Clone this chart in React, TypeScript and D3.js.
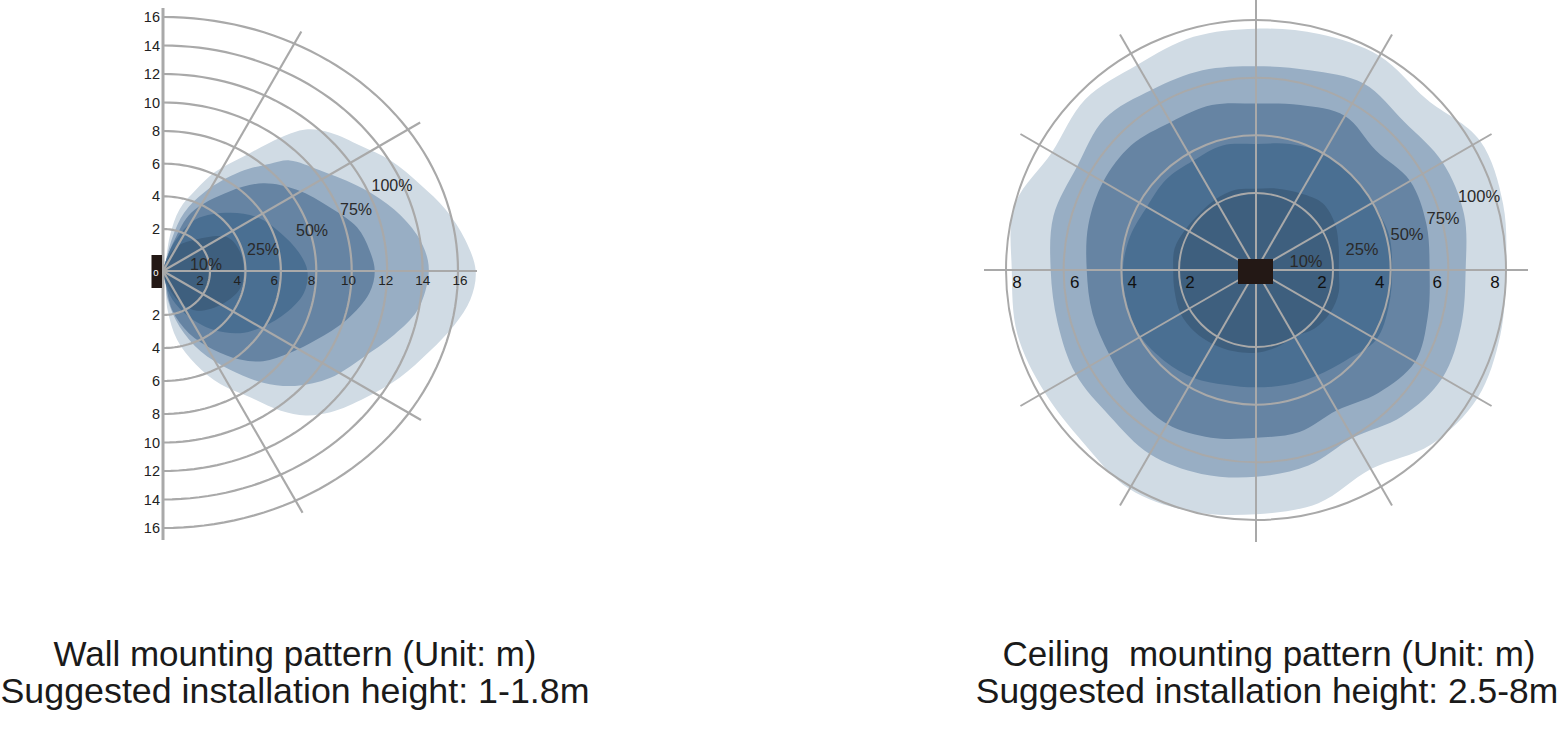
import React from 'react';
import * as d3 from 'd3';

const W = 1563, H = 745;

// ---------------- DATA ----------------
// Wall mounting pattern: grid rings (m) and contour outlines [forward m, lateral m (up +)]
const wallRings = [2, 4, 6, 8, 10, 12, 14, 16];
const wallSpokeAngles = [60, 30, -30, -60];
const levelLabels = ['100%', '75%', '50%', '25%', '10%'];

const wall100: [number, number][] = [
  [0, 0], [0.1, 0.4], [0.3, 1.7], [0.7, 3.2], [1.4, 4.4], [2.3, 5.5], [4.0, 6.5], [6.0, 7.6], [7.4, 8.1],
  [8.8, 7.9], [10.5, 7.1], [12.2, 6.2], [13.9, 4.7], [15.3, 3.2], [16.4, 1.5], [17.0, 0], [16.7, -1.3],
  [15.8, -2.6], [14.4, -4.2], [12.7, -5.8], [10.8, -7.0], [8.8, -7.9], [7.4, -8.1], [6.0, -7.8], [4.3, -7.0],
  [2.6, -6.2], [1.4, -5.0], [0.6, -3.5], [0.2, -1.8], [0.1, -0.6],
];
const wall75: [number, number][] = [
  [0, 0], [0.1, 0.4], [0.4, 1.6], [0.9, 3.0], [1.8, 4.3], [3.7, 5.5], [5.4, 6.0], [6.5, 6.2], [8.2, 5.6],
  [10.6, 4.5], [12.4, 3.2], [13.7, 1.7], [14.3, 0.5], [14.3, -0.4], [13.7, -1.8], [12.4, -3.2], [10.6, -4.6],
  [8.8, -5.8], [6.8, -6.3], [5.0, -6.1], [3.1, -5.3], [1.6, -4.2], [0.7, -2.7], [0.2, -1.3], [0.1, -0.4],
];
const wall50: [number, number][] = [
  [0, 0], [0.1, 0.4], [0.5, 1.5], [1.2, 3.0], [3.1, 4.3], [5.0, 4.8], [6.9, 4.4], [8.8, 3.3], [10.3, 2.1],
  [11.0, 1.0], [11.3, 0], [11.0, -1.0], [9.7, -2.3], [8.0, -3.5], [6.5, -4.3], [5.0, -4.8], [3.7, -4.7],
  [2.2, -4.1], [1.1, -3.1], [0.4, -1.8], [0.1, -0.5],
];
const wall25: [number, number][] = [
  [0, 0], [0.1, 0.4], [0.5, 1.4], [1.4, 2.6], [3.1, 3.0], [4.7, 2.7], [6.0, 1.8], [7.0, 0.9], [7.5, 0],
  [7.3, -1.0], [6.3, -1.9], [5.0, -2.7], [3.7, -3.1], [2.2, -2.9], [1.1, -2.1], [0.4, -1.3], [0.1, -0.5],
];
const wall10: [number, number][] = [
  [0, 0], [0.1, 0.3], [0.5, 1.1], [1.4, 1.5], [3.0, 1.6], [3.7, 0.9], [3.9, 0], [3.7, -0.8], [2.7, -1.5],
  [1.4, -1.8], [0.6, -1.3], [0.1, -0.4],
];

// Ceiling mounting pattern: rings (m), spokes (deg), contour radii (m) at angles (deg, counter-clockwise from east)
const ceilRings = [2, 4, 6, 8];
const ceilSpokeAngles = [0, 30, 60, 90, 120, 150, 180, 210, 240, 270, 300, 330];
const ceilAngles = [0, 15, 30, 45, 60, 75, 90, 105, 120, 135, 150, 165, 180, 195, 210, 225, 240, 255, 270, 285, 300, 315, 330, 345];
const ceil100 = [8.0, 8.2, 8.3, 7.7, 7.9, 7.8, 7.7, 7.7, 7.55, 7.7, 7.5, 8.0, 7.8, 7.9, 7.8, 7.8, 8.1, 8.0, 7.8, 7.7, 7.3, 7.9, 8.2, 8.1];
const ceil75 = [6.6, 6.8, 6.8, 6.6, 6.8, 6.5, 6.4, 6.5, 6.55, 6.75, 6.5, 6.6, 6.45, 6.45, 6.55, 6.5, 6.7, 6.65, 6.5, 6.35, 6.05, 6.5, 6.8, 6.7];
const ceil50 = [5.35, 5.45, 5.5, 5.2, 5.5, 5.25, 5.1, 5.25, 5.25, 5.45, 5.45, 5.35, 5.2, 5.2, 5.2, 5.35, 5.5, 5.35, 5.15, 5.15, 4.95, 5.35, 5.7, 5.5];
const ceil25 = [4.05, 4.1, 4.0, 4.0, 4.0, 3.85, 3.7, 3.8, 3.7, 3.75, 3.7, 3.85, 3.95, 3.95, 3.95, 3.8, 3.65, 3.45, 3.4, 3.45, 3.55, 3.75, 4.15, 4.1];
const ceil10 = [2.2, 2.3, 2.5, 2.6, 2.4, 2.25, 2.15, 2.2, 2.15, 2.1, 2.15, 2.25, 2.2, 2.25, 2.35, 2.35, 2.3, 2.25, 2.2, 2.1, 2.0, 2.2, 2.3, 2.3];

const wallTitle = ['Wall mounting pattern (Unit: m)', 'Suggested installation height: 1-1.8m'];
const ceilTitle = ['Ceiling  mounting pattern (Unit: m)', 'Suggested installation height: 2.5-8m'];

// ---------------- STYLE ----------------
const levelColors = ['#d0dbe4', '#98aec4', '#6684a3', '#4a6f92', '#3e5f7e'];
const gridColor = '#a9a9a9';
const font = '"Liberation Sans", Arial, Helvetica, sans-serif';
const rad = Math.PI / 180;

export default function App() {
  // ---------- wall chart ----------
  const wcx = 163, wcy = 271;
  const wx = d3.scaleLinear().domain([0, 2, 16]).range([wcx, wcx + 47, wcx + 295]);
  const wy = d3.scaleLinear()
    .domain([-16, -8, -2, 0, 2, 8, 16])
    .range([wcy + 257, wcy + 143, wcy + 44, wcy, wcy - 42, wcy - 140, wcy - 254]);
  const wLabelX = d3.scaleLinear().domain([0, 16]).range([wcx, wcx + 297]);

  const wallShape = d3.line<[number, number]>()
    .x(d => wx(d[0])).y(d => wy(d[1]))
    .curve(d3.curveCatmullRomClosed.alpha(0.5));
  const wallContours = [wall100, wall75, wall50, wall25, wall10];

  const arcLine = d3.line<[number, number]>().x(d => d[0]).y(d => d[1]);
  const wallArc = (r: number) => {
    const rx = wx(r) - wcx;
    const ryUp = wcy - wy(r);
    const ryDn = wy(-r) - wcy;
    const pts: [number, number][] = d3.range(-90, 90.01, 2).map(t => {
      const a = t * rad;
      const ry = t >= 0 ? ryUp : ryDn;
      return [wcx + rx * Math.cos(a), wcy - ry * Math.sin(a)];
    });
    return arcLine(pts) as string;
  };
  const wallSpoke = (deg: number) => {
    const a = deg * rad;
    const ax = wx(16) - wcx;
    const by = deg > 0 ? wcy - wy(16) : wy(-16) - wcy;
    const r = 1 / Math.sqrt((Math.cos(a) ** 2) / (ax * ax) + (Math.sin(a) ** 2) / (by * by)) + 14;
    return { x2: wcx + r * Math.cos(a), y2: wcy - r * Math.sin(a) };
  };

  // ---------- ceiling chart ----------
  const ccx = 1256, ccy = 270;
  const cr = d3.scaleLinear().domain([0, 2, 8]).range([0, 77, 250]);
  const ceilShape = d3.line<[number, number]>()
    .x(d => ccx + cr(d[1]) * Math.cos(d[0] * rad))
    .y(d => ccy - cr(d[1]) * Math.sin(d[0] * rad))
    .curve(d3.curveCatmullRomClosed.alpha(0.5));
  const ceilContours = [ceil100, ceil75, ceil50, ceil25, ceil10].map(rs =>
    ceilAngles.map((a, i) => [a, rs[i]] as [number, number]));
  const spokeLen = cr(8) + 22;

  // label placement (px offsets from the chart centres)
  const wallPctPos = [[229, -80], [193, -56], [149, -35], [100, -16], [43, -1]];
  const ceilPctPos = [[223, -68], [187, -46], [151, -30], [106, -15], [50, -3]];

  const pre = { whiteSpace: 'pre' as const };

  return (
    <svg width={W} height={H} style={{ position: 'absolute', left: 0, top: 0, background: '#fff' }}
      fontFamily={font}>
      <defs>
        <clipPath id="wallClip">
          <rect x={wcx} y={0} width={600} height={H} />
        </clipPath>
      </defs>

      {/* ===== Wall mounting pattern ===== */}
      <g clipPath="url(#wallClip)">
        {wallContours.map((c, i) => (
          <path key={i} d={wallShape(c) as string} fill={levelColors[i]} />
        ))}
      </g>
      <g fill="none" stroke={gridColor} strokeWidth={2.2}>
        {wallRings.map(r => <path key={r} d={wallArc(r)} />)}
        {wallSpokeAngles.map(a => {
          const e = wallSpoke(a);
          return <line key={a} x1={wcx} y1={wcy} x2={e.x2} y2={e.y2} />;
        })}
        <line x1={wcx} y1={wcy} x2={wx(16) + 19} y2={wcy} />
        <line x1={wcx} y1={wy(16) - 9} x2={wcx} y2={wy(-16) + 12} strokeWidth={3} />
      </g>
      <rect x={wcx - 11.5} y={wcy - 16} width={10.5} height={33} fill="#231815" />
      <text x={wcx - 7} y={wcy + 5} fill="#fff" fontSize={9.5} textAnchor="middle">0</text>
      <g fontSize={14.5} fill="#222" textAnchor="end">
        {wallRings.map(r => (
          <React.Fragment key={r}>
            <text x={wcx - 3} y={wy(r) + 5}>{r}</text>
            <text x={wcx - 3} y={wy(-r) + 5}>{r}</text>
          </React.Fragment>
        ))}
      </g>
      <g fontSize={13.5} fill="#222" textAnchor="middle">
        {wallRings.map(r => (
          <text key={r} x={wLabelX(r)} y={wcy + 14}>{r}</text>
        ))}
      </g>
      <g fontSize={16} fill="#2a2a2a" textAnchor="middle">
        {levelLabels.map((l, i) => (
          <text key={l} x={wcx + wallPctPos[i][0]} y={wcy + wallPctPos[i][1]}>{l}</text>
        ))}
      </g>

      {/* ===== Ceiling mounting pattern ===== */}
      <g>
        {ceilContours.map((c, i) => (
          <path key={i} d={ceilShape(c) as string} fill={levelColors[i]} />
        ))}
      </g>
      <g fill="none" stroke={gridColor} strokeWidth={2}>
        {ceilRings.map(r => <circle key={r} cx={ccx} cy={ccy} r={cr(r)} />)}
        {ceilSpokeAngles.map(a => (
          <line key={a} x1={ccx} y1={ccy}
            x2={ccx + spokeLen * Math.cos(a * rad)} y2={ccy - spokeLen * Math.sin(a * rad)} />
        ))}
      </g>
      <rect x={ccx - 18} y={ccy - 11} width={35} height={25} fill="#231815" />
      <g fontSize={17} fill="#111" textAnchor="middle">
        {ceilRings.map(r => (
          <React.Fragment key={r}>
            <text x={ccx - (cr(r) - 11)} y={ccy + 18}>{r}</text>
            <text x={ccx + (cr(r) - 11)} y={ccy + 18}>{r}</text>
          </React.Fragment>
        ))}
      </g>
      <g fontSize={16.5} fill="#2a2a2a" textAnchor="middle">
        {levelLabels.map((l, i) => (
          <text key={l} x={ccx + ceilPctPos[i][0]} y={ccy + ceilPctPos[i][1]}>{l}</text>
        ))}
      </g>

      {/* ===== Titles ===== */}
      <g fill="#1a1a1a" textAnchor="middle">
        <text x={295} y={666} fontSize={35} xmlSpace="preserve" style={pre}>{wallTitle[0]}</text>
        <text x={295} y={703} fontSize={35.8} xmlSpace="preserve" style={pre}>{wallTitle[1]}</text>
        <text x={1269} y={666} fontSize={35} xmlSpace="preserve" style={pre}>{ceilTitle[0]}</text>
        <text x={1267} y={703} fontSize={35.4} xmlSpace="preserve" style={pre}>{ceilTitle[1]}</text>
      </g>
    </svg>
  );
}
